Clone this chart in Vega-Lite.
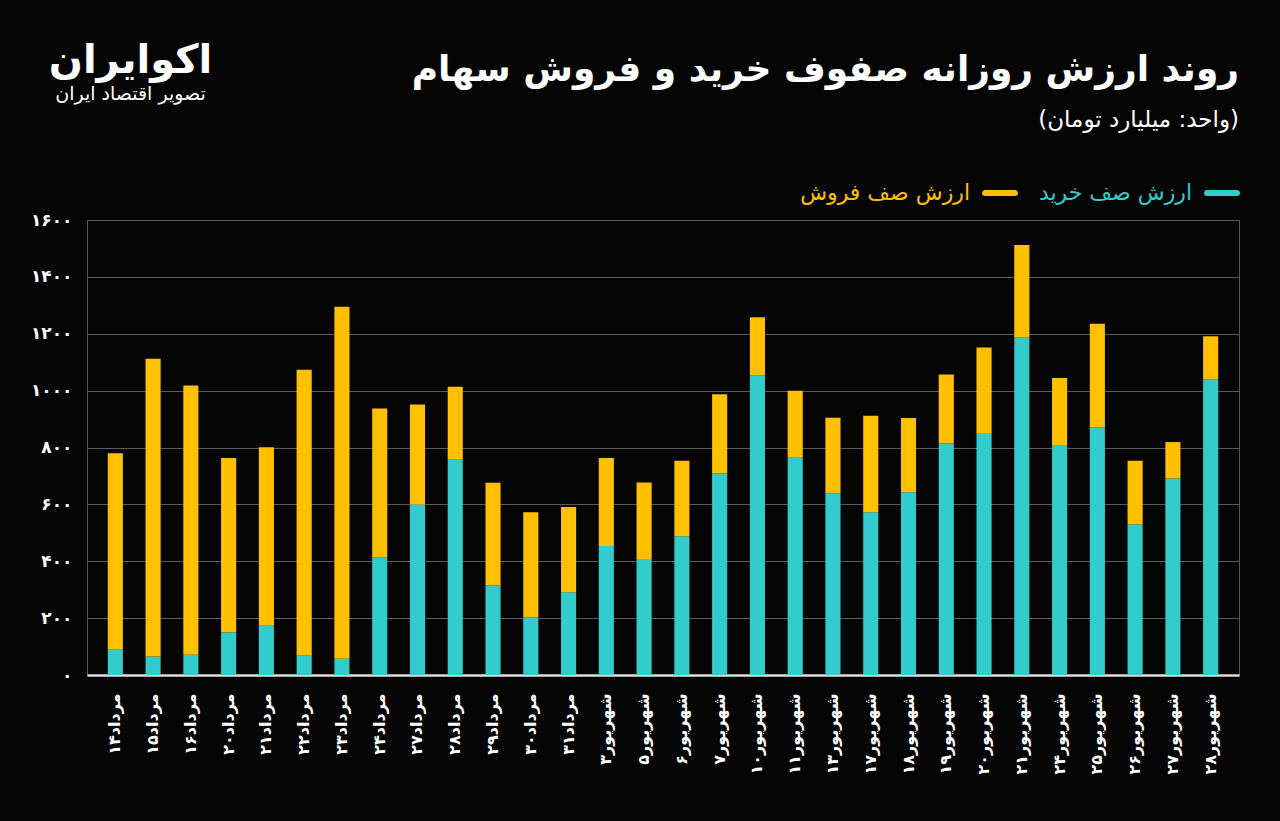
{
  "$schema": "https://vega.github.io/schema/vega-lite/v6.json",
  "width": 1152,
  "height": 455,
  "autosize": {"type": "none"},
  "padding": {"left": 87, "top": 220, "right": 41, "bottom": 146},
  "background": "#050505",
  "title": {
    "text": "روند ارزش روزانه صفوف خرید و فروش سهام",
    "subtitle": "(واحد: میلیارد تومان)",
    "anchor": "end",
    "frame": "group",
    "font": "DejaVu Sans",
    "fontSize": 36,
    "fontWeight": "bold",
    "color": "#ffffff",
    "subtitleFont": "DejaVu Sans",
    "subtitleColor": "#ffffff",
    "subtitleFontSize": 23,
    "subtitlePadding": 20,
    "offset": -93
  },
  "data": {
    "values": [
      {"d": "مرداد۱۴", "ارزش صف خرید": 90, "ارزش صف فروش": 690},
      {"d": "مرداد۱۵", "ارزش صف خرید": 65, "ارزش صف فروش": 1047},
      {"d": "مرداد۱۶", "ارزش صف خرید": 71, "ارزش صف فروش": 947},
      {"d": "مرداد۲۰", "ارزش صف خرید": 150, "ارزش صف فروش": 613},
      {"d": "مرداد۲۱", "ارزش صف خرید": 173, "ارزش صف فروش": 628},
      {"d": "مرداد۲۲", "ارزش صف خرید": 69, "ارزش صف فروش": 1004},
      {"d": "مرداد۲۳", "ارزش صف خرید": 57, "ارزش صف فروش": 1238},
      {"d": "مرداد۲۴", "ارزش صف خرید": 413, "ارزش صف فروش": 524},
      {"d": "مرداد۲۷", "ارزش صف خرید": 600, "ارزش صف فروش": 351},
      {"d": "مرداد۲۸", "ارزش صف خرید": 757, "ارزش صف فروش": 257},
      {"d": "مرداد۲۹", "ارزش صف خرید": 315, "ارزش صف فروش": 361},
      {"d": "مرداد۳۰", "ارزش صف خرید": 202, "ارزش صف فروش": 370},
      {"d": "مرداد۳۱", "ارزش صف خرید": 291, "ارزش صف فروش": 300},
      {"d": "شهریور۳", "ارزش صف خرید": 454, "ارزش صف فروش": 309},
      {"d": "شهریور۵", "ارزش صف خرید": 408, "ارزش صف فروش": 269},
      {"d": "شهریور۶", "ارزش صف خرید": 488, "ارزش صف فروش": 265},
      {"d": "شهریور۷", "ارزش صف خرید": 709, "ارزش صف فروش": 278},
      {"d": "شهریور۱۰", "ارزش صف خرید": 1054, "ارزش صف فروش": 204},
      {"d": "شهریور۱۱", "ارزش صف خرید": 764, "ارزش صف فروش": 236},
      {"d": "شهریور۱۳", "ارزش صف خرید": 639, "ارزش صف فروش": 266},
      {"d": "شهریور۱۷", "ارزش صف خرید": 572, "ارزش صف فروش": 340},
      {"d": "شهریور۱۸", "ارزش صف خرید": 643, "ارزش صف فروش": 261},
      {"d": "شهریور۱۹", "ارزش صف خرید": 814, "ارزش صف فروش": 243},
      {"d": "شهریور۲۰", "ارزش صف خرید": 851, "ارزش صف فروش": 301},
      {"d": "شهریور۲۱", "ارزش صف خرید": 1187, "ارزش صف فروش": 325},
      {"d": "شهریور۲۴", "ارزش صف خرید": 806, "ارزش صف فروش": 238},
      {"d": "شهریور۲۵", "ارزش صف خرید": 870, "ارزش صف فروش": 365},
      {"d": "شهریور۲۶", "ارزش صف خرید": 529, "ارزش صف فروش": 224},
      {"d": "شهریور۲۷", "ارزش صف خرید": 691, "ارزش صف فروش": 128},
      {"d": "شهریور۲۸", "ارزش صف خرید": 1039, "ارزش صف فروش": 152}
    ]
  },
  "transform": [
    {"fold": ["ارزش صف خرید", "ارزش صف فروش"], "as": ["series", "value"]}
  ],
  "mark": {"type": "bar"},
  "encoding": {
    "x": {
      "field": "d",
      "type": "nominal",
      "sort": null,
      "scale": {"paddingInner": 0.6, "paddingOuter": 0.55},
      "axis": {
        "labelAngle": -90,
        "labelColor": "#ffffff",
        "labelFont": "DejaVu Sans",
        "labelFontSize": 16,
        "labelFontWeight": "bold",
        "labelPadding": 18,
        "ticks": false,
        "domain": true,
        "domainColor": "#dddddd",
        "domainWidth": 2.5,
        "grid": false,
        "title": "تصویر اقتصاد ایران",
        "titleX": 43,
        "titleY": -582,
        "titleAngle": 0,
        "titleAlign": "center",
        "titleBaseline": "middle",
        "titleFont": "DejaVu Sans",
        "titleFontSize": 19,
        "titleFontWeight": "normal",
        "titleColor": "#ffffff"
      }
    },
    "y": {
      "field": "value",
      "type": "quantitative",
      "stack": "zero",
      "scale": {"domain": [0, 1600], "nice": false},
      "axis": {
        "values": [0, 200, 400, 600, 800, 1000, 1200, 1400, 1600],
        "labelExpr": "datum.value == 0 ? '۰' : datum.value == 200 ? '۲۰۰' : datum.value == 400 ? '۴۰۰' : datum.value == 600 ? '۶۰۰' : datum.value == 800 ? '۸۰۰' : datum.value == 1000 ? '۱۰۰۰' : datum.value == 1200 ? '۱۲۰۰' : datum.value == 1400 ? '۱۴۰۰' : '۱۶۰۰'",
        "grid": true,
        "gridColor": "#5a5a5a",
        "gridWidth": 1,
        "domain": false,
        "ticks": false,
        "labelColor": "#ffffff",
        "labelFont": "DejaVu Sans",
        "labelFontSize": 17,
        "labelFontWeight": "bold",
        "labelPadding": 15,
        "title": "اکوایران",
        "titleX": 43,
        "titleY": -160,
        "titleAngle": 0,
        "titleAlign": "center",
        "titleBaseline": "middle",
        "titleFont": "DejaVu Sans",
        "titleFontSize": 40,
        "titleFontWeight": "bold",
        "titleColor": "#ffffff"
      }
    },
    "color": {
      "field": "series",
      "type": "nominal",
      "scale": {"domain": ["ارزش صف فروش", "ارزش صف خرید"], "range": ["#FFC000", "#33CCCC"]},
      "legend": {
        "orient": "none",
        "legendX": 895,
        "legendY": -45,
        "direction": "horizontal",
        "title": null,
        "labelFont": "DejaVu Sans",
        "labelFontSize": 22,
        "labelAlign": "right",
        "labelOffset": -48,
        "labelLimit": 400,
        "columnPadding": 20,
        "symbolType": "M-0.83,-0.17H0.83A0.17,0.17 0 0 1 0.83,0.17H-0.83A0.17,0.17 0 0 1 -0.83,-0.17Z",
        "symbolSize": 1296,
        "symbolStrokeWidth": 0,
        "symbolOpacity": 1,
        "encode": {
          "labels": {
            "update": {
              "fill": {"signal": "datum.value === 'ارزش صف خرید' ? '#33CCCC' : '#FFC000'"}
            }
          }
        }
      }
    },
    "order": {"field": "series", "sort": "ascending"}
  },
  "config": {
    "font": "DejaVu Sans",
    "view": {"stroke": "#555555", "strokeWidth": 1}
  }
}
